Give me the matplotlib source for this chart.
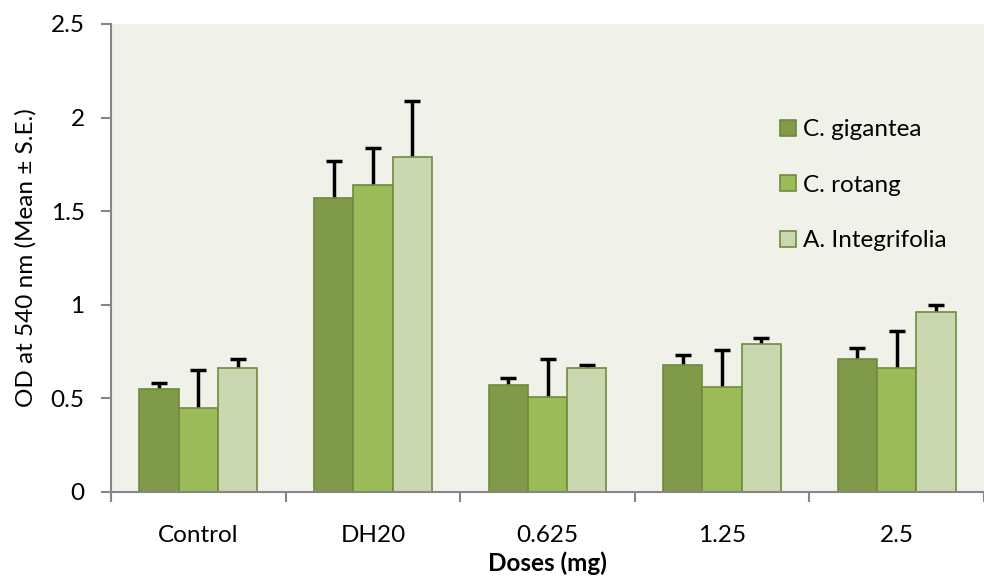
import matplotlib.pyplot as plt
import numpy as np

doses = ["Control", "DH20", "0.625", "1.25", "2.5"]
species = ["C. gigantea", "C. rotang", "A. Integrifolia"]
means = {
    "C. gigantea": [0.55, 1.57, 0.57, 0.68, 0.71],
    "C. rotang": [0.45, 1.64, 0.51, 0.56, 0.66],
    "A. Integrifolia": [0.66, 1.79, 0.66, 0.79, 0.96],
}
errors = {
    "C. gigantea": [0.03, 0.20, 0.04, 0.05, 0.06],
    "C. rotang": [0.20, 0.20, 0.20, 0.20, 0.20],
    "A. Integrifolia": [0.05, 0.30, 0.02, 0.03, 0.04],
}
colors = ["#7F9A48", "#9BBB59", "#C9D8AE"]
edge = "#71893F"
grey = "#868686"
fs = 17.5

plt.rcParams["font.family"] = ["Lato", "DejaVu Sans"]

fig = plt.figure(figsize=(9.84, 5.8), dpi=100)
ax = fig.add_axes([111 / 984, 88 / 580, 1 - 111 / 984, 468 / 580])
ax.set_facecolor("#F0F2EA")

x = np.arange(len(doses))
width = 0.225
for i, name in enumerate(species):
    pos = x + (i - 1) * width
    # symmetric bars drawn behind the columns, so only the plus side shows
    ax.errorbar(pos, means[name], yerr=errors[name], fmt="none",
                ecolor="black", elinewidth=2.5, capsize=6, capthick=2.5, zorder=1)
    ax.bar(pos, means[name], width, color=colors[i],
           edgecolor=edge, linewidth=1.2, label=name, zorder=2)

ax.set_xlim(-0.5, (984 - 111) / 177 - 0.5)
ax.set_ylim(0, 2.5)
ax.set_yticks([0, 0.5, 1, 1.5, 2, 2.5])
ax.set_yticklabels(["0", "0.5", "1", "1.5", "2", "2.5"])
ax.set_xticks(x)
ax.set_xticklabels(doses)
ax.set_xticks(np.arange(-0.5, 5, 1), minor=True)
ax.tick_params(axis="x", which="major", length=0, pad=24, labelsize=fs)
ax.tick_params(axis="x", which="minor", length=7, color=grey, width=1.5)
ax.tick_params(axis="y", length=7, color=grey, width=1.5, pad=12, labelsize=fs)

for side in ["top", "right"]:
    ax.spines[side].set_visible(False)
for side in ["left", "bottom"]:
    ax.spines[side].set_color(grey)
    ax.spines[side].set_linewidth(1.5)

ax.set_xlabel("Doses (mg)", fontsize=fs, fontweight="bold", labelpad=4)
ax.set_ylabel("OD at 540 nm (Mean ± S.E.)", fontsize=fs, labelpad=10)

ax.legend(loc="upper left", bbox_to_anchor=(0.741, 0.843), frameon=False,
          fontsize=fs, labelspacing=1.42, handlelength=0.65,
          handleheight=0.65, handletextpad=0.3)

fig.savefig("out.png", dpi=100)
